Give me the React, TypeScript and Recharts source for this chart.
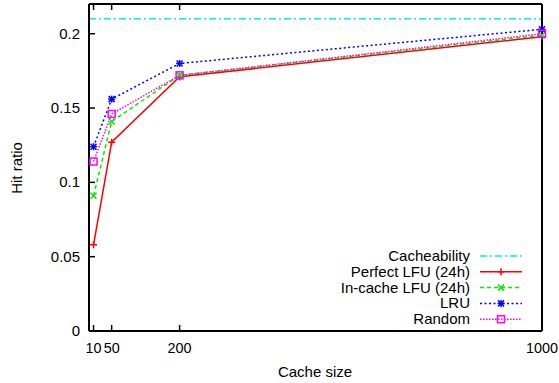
import React from 'react';
import { LineChart, Line, XAxis, YAxis, ReferenceLine } from 'recharts';

const cacheSizes = [10, 50, 200, 1000];
const perfectLFU = [0.058, 0.127, 0.171, 0.198];
const inCacheLFU = [0.091, 0.141, 0.172, 0.199];
const lru = [0.124, 0.156, 0.18, 0.203];
const randomPolicy = [0.114, 0.146, 0.172, 0.2];
const cacheability = 0.21;
const xTicks = [10, 50, 200, 1000];
const yTicks = [0, 0.05, 0.1, 0.15, 0.2];

const FONT = "'Liberation Sans', Arial, Helvetica, sans-serif";

const rows = cacheSizes.map((s, i) => ({
  size: s,
  perfect: perfectLFU[i],
  incache: inCacheLFU[i],
  lru: lru[i],
  random: randomPolicy[i],
}));

type Shape = 'none' | 'plus' | 'cross' | 'star' | 'square';

function Marker({ shape, cx, cy, color }: { shape: Shape; cx: number; cy: number; color: string }) {
  const s = 3.5;
  if (shape === 'plus')
    return (
      <g stroke={color} strokeWidth={1.5}>
        <line x1={cx - s} y1={cy} x2={cx + s} y2={cy} />
        <line x1={cx} y1={cy - s} x2={cx} y2={cy + s} />
      </g>
    );
  if (shape === 'cross')
    return (
      <g stroke={color} strokeWidth={1.5}>
        <line x1={cx - 3} y1={cy - 3} x2={cx + 3} y2={cy + 3} />
        <line x1={cx - 3} y1={cy + 3} x2={cx + 3} y2={cy - 3} />
      </g>
    );
  if (shape === 'star')
    return (
      <g stroke={color} strokeWidth={1.5}>
        <line x1={cx - s} y1={cy} x2={cx + s} y2={cy} />
        <line x1={cx} y1={cy - s} x2={cx} y2={cy + s} />
        <line x1={cx - 3} y1={cy - 3} x2={cx + 3} y2={cy + 3} />
        <line x1={cx - 3} y1={cy + 3} x2={cx + 3} y2={cy - 3} />
      </g>
    );
  if (shape === 'square')
    return <rect x={cx - 3.5} y={cy - 3.5} width={7} height={7} fill="none" stroke={color} strokeWidth={1.5} />;
  return null;
}

const series = [
  { key: 'perfect', name: 'Perfect LFU (24h)', color: '#ff0000', dash: undefined as string | undefined, shape: 'plus' as Shape },
  { key: 'incache', name: 'In-cache LFU (24h)', color: '#00ee00', dash: '4 3', shape: 'cross' as Shape },
  { key: 'lru', name: 'LRU', color: '#0000ff', dash: '2 2.5', shape: 'star' as Shape },
  { key: 'random', name: 'Random', color: '#ff00ff', dash: '1.5 1.5', shape: 'square' as Shape },
];

const legendItems = [
  { name: 'Cacheability', color: '#00eeee', dash: '7 3 2 3', shape: 'none' as Shape },
  ...series,
];

const makeDot = (shape: Shape, color: string) => (p: any) => (
  <g key={`d-${p.index}`}>
    <Marker shape={shape} cx={p.cx} cy={p.cy} color={color} />
  </g>
);

const BottomTick = (p: any) => (
  <g>
    <line x1={p.x} y1={p.y} x2={p.x} y2={p.y - 6} stroke="#000" strokeWidth={1.5} />
    <text x={p.x} y={p.y + 22} textAnchor="middle" fontSize={14.4} fontFamily={FONT} fill="#000">
      {p.payload.value}
    </text>
  </g>
);
const TopTick = (p: any) => (
  <line x1={p.x} y1={p.y} x2={p.x} y2={p.y + 6} stroke="#000" strokeWidth={1.5} />
);
const LeftTick = (p: any) => (
  <g>
    <line x1={p.x} y1={p.y} x2={p.x + 6} y2={p.y} stroke="#000" strokeWidth={1.5} />
    <text x={p.x - 9} y={p.y + 5} textAnchor="end" fontSize={15} fontFamily={FONT} fill="#000">
      {String(p.payload.value)}
    </text>
  </g>
);
const RightTick = (p: any) => (
  <line x1={p.x} y1={p.y} x2={p.x - 6} y2={p.y} stroke="#000" strokeWidth={1.5} />
);

export default function App() {
  const axisLine = { stroke: '#000', strokeWidth: 2 };
  return (
    <div style={{ position: 'absolute', left: 0, top: 0, width: 559, height: 383, background: '#fff', fontFamily: FONT }}>
      <LineChart width={559} height={383} data={rows} margin={{ top: 2, right: 15, bottom: 22, left: 29 }}>
        <XAxis xAxisId="b" dataKey="size" type="number" domain={[0, 1000]} ticks={xTicks} interval={0}
          height={30} tickSize={0} tickMargin={0} tickLine={false} axisLine={axisLine} tick={BottomTick} />
        <XAxis xAxisId="t" orientation="top" dataKey="size" type="number" domain={[0, 1000]} ticks={xTicks} interval={0}
          height={2} tickSize={0} tickMargin={0} tickLine={false} axisLine={axisLine} tick={TopTick} />
        <YAxis yAxisId="l" type="number" domain={[0, 0.22]} ticks={yTicks} interval={0}
          width={60} tickSize={0} tickMargin={0} tickLine={false} axisLine={axisLine} tick={LeftTick} />
        <YAxis yAxisId="r" orientation="right" type="number" domain={[0, 0.22]} ticks={yTicks} interval={0}
          width={2} tickSize={0} tickMargin={0} tickLine={false} axisLine={axisLine} tick={RightTick} />
        <ReferenceLine xAxisId="b" yAxisId="l" y={cacheability} stroke="#00eeee" strokeWidth={1.5} strokeDasharray="7 3 2 3" />
        {series.map((s) => (
          <Line key={s.key} xAxisId="b" yAxisId="l" dataKey={s.key} name={s.name} stroke={s.color}
            strokeWidth={1.5} strokeDasharray={s.dash} dot={makeDot(s.shape, s.color)} activeDot={false}
            isAnimationActive={false} />
        ))}
      </LineChart>
      <svg width={559} height={383} style={{ position: 'absolute', left: 0, top: 0, pointerEvents: 'none' }}>
        <text x={315} y={377} textAnchor="middle" fontSize={15} fontFamily={FONT} fill="#000">Cache size</text>
        <text x={22} y={168} transform="rotate(-90 22 168)" textAnchor="middle" fontSize={15} fontFamily={FONT} fill="#000">Hit ratio</text>
        {legendItems.map((it, i) => {
          const cy = 256 + i * 15.8;
          return (
            <g key={it.name}>
              <text x={470} y={cy + 5} textAnchor="end" fontSize={15} fontFamily={FONT} fill="#000">{it.name}</text>
              <line x1={480} y1={cy} x2={522} y2={cy} stroke={it.color} strokeWidth={1.5} strokeDasharray={it.dash} />
              <Marker shape={it.shape} cx={501} cy={cy} color={it.color} />
            </g>
          );
        })}
      </svg>
    </div>
  );
}
